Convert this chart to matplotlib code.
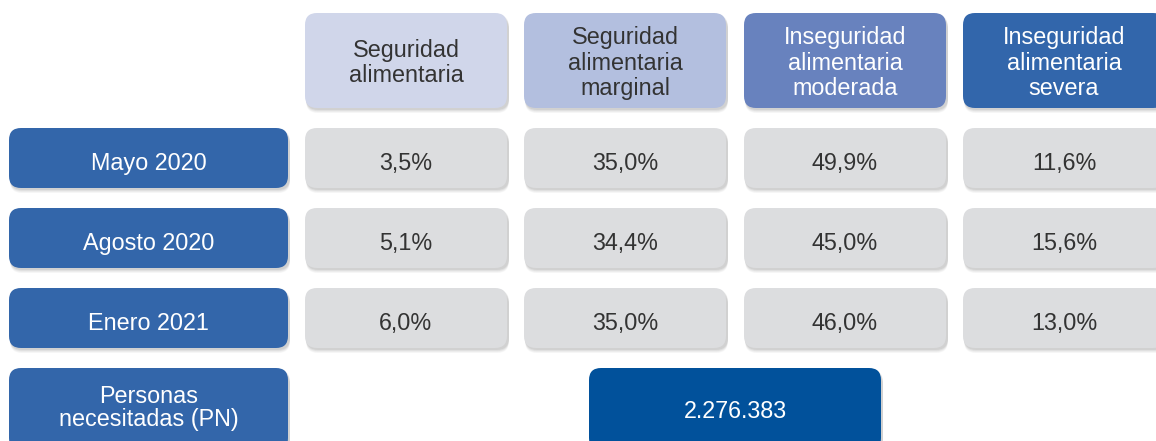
import matplotlib
matplotlib.use("Agg")
import matplotlib.pyplot as plt
from matplotlib.patches import FancyBboxPatch

plt.rcParams['font.family'] = ['Liberation Sans', 'DejaVu Sans']

# ---- data ----
categories = ["Seguridad\nalimentaria",
              "Seguridad\nalimentaria\nmarginal",
              "Inseguridad\nalimentaria\nmoderada",
              "Inseguridad\nalimentaria\nsevera"]
periods = ["Mayo 2020", "Agosto 2020", "Enero 2021"]
mayo_2020 = [3.5, 35.0, 49.9, 11.6]
agosto_2020 = [5.1, 34.4, 45.0, 15.6]
enero_2021 = [6.0, 35.0, 46.0, 13.0]
pn_label = "Personas\nnecesitadas (PN)"
pn_value = 2276383

# ---- styles ----
header_colors = ["#D0D6EA", "#B3BFDF", "#6882BE", "#3266AB"]
header_text_colors = ["#333333", "#333333", "white", "white"]
label_color = "#3366AA"
cell_color = "#DCDDDF"
pn_color = "#01519B"
fs = 16.8

W, H = 1156, 441
fig = plt.figure(figsize=(W / 100, H / 100), dpi=100)
ax = fig.add_axes([0, 0, 1, 1])
ax.set_xlim(0, W)
ax.set_ylim(H, 0)
ax.axis("off")

col_x = [305, 524, 744, 963]
col_w = 202
row_y = [128, 208, 288]
row_h = 60


def rbox(x, y, w, h, color, r=12, shadow=True):
    if shadow:
        for k, a in [(5, 0.05), (4, 0.06), (3, 0.08), (2, 0.10)]:
            ax.add_patch(FancyBboxPatch((x + 1, y + k), w + 1, h,
                                        boxstyle=f"round,pad=0,rounding_size={r}",
                                        fc="#555555", ec="none", alpha=a, zorder=1))
    ax.add_patch(FancyBboxPatch((x, y), w, h,
                                boxstyle=f"round,pad=0,rounding_size={r}",
                                fc=color, ec="none", zorder=2))


def fmt_pct(v):
    return f"{v:.1f}%".replace(".", ",")


def fmt_int(v):
    return f"{v:,}".replace(",", ".")


# headers
for i, cat in enumerate(categories):
    rbox(col_x[i], 13, col_w, 95, header_colors[i])
    ax.text(col_x[i] + col_w / 2, 63, cat, ha="center", va="center",
            fontsize=fs, color=header_text_colors[i], linespacing=1.12, zorder=3)

# rows
all_vals = [mayo_2020, agosto_2020, enero_2021]
for r, (lab, vals) in enumerate(zip(periods, all_vals)):
    y = row_y[r]
    rbox(9, y, 279, row_h, label_color)
    ax.text(9 + 279 / 2, y + row_h / 2 + 3, lab, ha="center", va="center_baseline",
            fontsize=fs, color="white", zorder=3)
    for i, v in enumerate(vals):
        rbox(col_x[i], y, col_w, row_h, cell_color)
        ax.text(col_x[i] + col_w / 2, y + row_h / 2 + 3, fmt_pct(v), ha="center",
                va="center_baseline", fontsize=fs, color="#333333", zorder=3)

# PN row
rbox(9, 368, 279, 82, label_color)
ax.text(9 + 279 / 2, 408, pn_label, ha="center", va="center", fontsize=fs,
        color="white", linespacing=1.05, zorder=3)
rbox(589, 368, 292, 82, pn_color)
ax.text(589 + 292 / 2, 409, fmt_int(pn_value), ha="center", va="center_baseline",
        fontsize=fs, color="white", zorder=3)

fig.savefig("out.png", dpi=100)
